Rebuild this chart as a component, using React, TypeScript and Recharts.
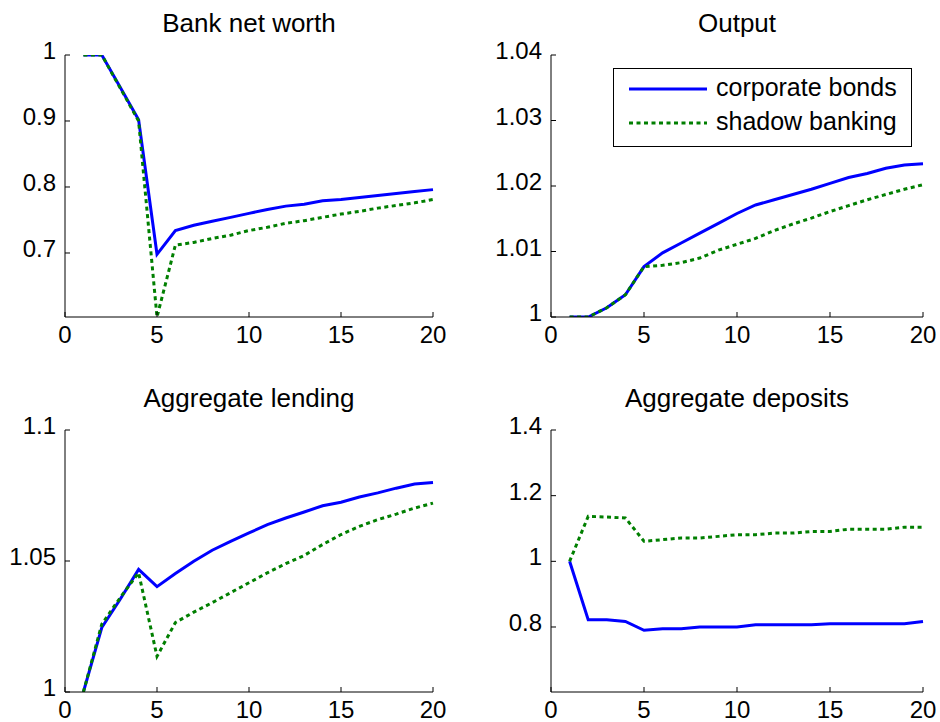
import { Legend, Line, LineChart, XAxis, YAxis } from 'recharts'

const FONT = '"Liberation Sans", Arial, Helvetica, sans-serif'
const TICK = 5

const periods = [1, 2, 3, 4, 5, 6, 7, 8, 9, 10, 11, 12, 13, 14, 15, 16, 17, 18, 19, 20]
const xTicks = [0, 5, 10, 15, 20]

const netWorthBonds = [1, 1, 0.951, 0.902, 0.698, 0.734, 0.742, 0.748, 0.754, 0.76, 0.766, 0.771, 0.774, 0.779, 0.781, 0.784, 0.787, 0.79, 0.793, 0.796]
const netWorthShadow = [1, 1, 0.95, 0.9, 0.603, 0.712, 0.716, 0.722, 0.727, 0.734, 0.739, 0.745, 0.749, 0.754, 0.759, 0.763, 0.768, 0.772, 0.776, 0.781]
const netWorthTicks = [0.7, 0.8, 0.9, 1]

const outputBonds = [1, 1, 1.0014, 1.0034, 1.0077, 1.0098, 1.0113, 1.0128, 1.0143, 1.0158, 1.0171, 1.0179, 1.0187, 1.0195, 1.0204, 1.0213, 1.0219, 1.0227, 1.0232, 1.0234]
const outputShadow = [1, 1, 1.0014, 1.0034, 1.0077, 1.0079, 1.0083, 1.009, 1.0102, 1.0111, 1.012, 1.0132, 1.0142, 1.0151, 1.0161, 1.017, 1.0179, 1.0187, 1.0195, 1.0202]
const outputTicks = [1, 1.01, 1.02, 1.03, 1.04]

const lendingBonds = [1, 1.0246, 1.0354, 1.0468, 1.0402, 1.0452, 1.0499, 1.0541, 1.0575, 1.0607, 1.0639, 1.0664, 1.0687, 1.0711, 1.0724, 1.0744, 1.076, 1.0778, 1.0794, 1.08]
const lendingShadow = [1, 1.0259, 1.036, 1.0455, 1.0136, 1.0265, 1.0305, 1.0341, 1.0379, 1.0417, 1.0455, 1.049, 1.0521, 1.0563, 1.0601, 1.0632, 1.0658, 1.0679, 1.0702, 1.0721]
const lendingTicks = [1, 1.05, 1.1]

const depositsBonds = [1, 0.822, 0.822, 0.817, 0.79, 0.795, 0.795, 0.8, 0.8, 0.8, 0.807, 0.807, 0.807, 0.807, 0.81, 0.81, 0.81, 0.81, 0.81, 0.817]
const depositsShadow = [1, 1.137, 1.135, 1.132, 1.061, 1.066, 1.071, 1.071, 1.076, 1.081, 1.081, 1.086, 1.086, 1.091, 1.091, 1.098, 1.098, 1.098, 1.104, 1.104]
const depositsTicks = [0.8, 1, 1.2, 1.4]

const series = [
  { key: 'bonds', name: 'corporate bonds', color: '#0000ff', dash: undefined },
  { key: 'shadow', name: 'shadow banking', color: '#007f00', dash: '4 3.5' },
]

function rows(bonds: number[], shadow: number[]) {
  return periods.map((t, i) => ({ t, bonds: bonds[i], shadow: shadow[i] }))
}

const textProps = { fontFamily: FONT, fill: '#000' }

function BottomTick({ x, y, payload }: any) {
  return (
    <g>
      <line x1={x} x2={x} y1={y} y2={y - TICK} stroke="#000" />
      <text x={x} y={y + 26} textAnchor="middle" fontSize={24} {...textProps}>
        {payload.value}
      </text>
    </g>
  )
}

function TopTick({ x, y }: any) {
  return <line x1={x} x2={x} y1={y} y2={y + TICK} stroke="#000" />
}

function LeftTick({ x, y, payload }: any) {
  return (
    <g>
      <line x1={x} x2={x + TICK} y1={y} y2={y} stroke="#000" />
      <text x={x - 9} y={y + 4} textAnchor="end" fontSize={24} {...textProps}>
        {String(payload.value)}
      </text>
    </g>
  )
}

function RightTick({ x, y }: any) {
  return <line x1={x} x2={x - TICK} y1={y} y2={y} stroke="#000" />
}

function LegendBox() {
  return (
    <svg width={299} height={79} style={{ display: 'block', background: '#fff' }}>
      <rect x={0.5} y={0.5} width={298} height={78} fill="#fff" stroke="#000" />
      {series.map((s, i) => {
        const cy = 21 + i * 34
        return (
          <g key={s.key}>
            <line x1={16} x2={94} y1={cy} y2={cy} stroke={s.color} strokeWidth={3} strokeDasharray={s.dash} />
            <text x={103} y={cy + 7} fontSize={25} {...textProps}>
              {s.name}
            </text>
          </g>
        )
      })}
    </svg>
  )
}

type PanelProps = {
  title: string
  data: { t: number; bonds: number; shadow: number }[]
  yDomain: [number, number]
  yTicks: number[]
  left: number
  top: number
  yAxisWidth: number
  marginRight: number
  marginTop: number
  marginBottom: number
  legend?: boolean
}

function Panel(p: PanelProps) {
  const W = 470
  const H = 361
  const plotLeft = p.left + p.yAxisWidth
  const plotWidth = W - p.yAxisWidth - p.marginRight
  return (
    <>
      <div
        style={{
          position: 'absolute',
          left: plotLeft,
          width: plotWidth,
          top: p.top + p.marginTop - 45,
          textAlign: 'center',
          fontFamily: FONT,
          fontSize: 26,
          lineHeight: '26px',
          color: '#000',
        }}
      >
        {p.title}
      </div>
      <div style={{ position: 'absolute', left: p.left, top: p.top }}>
        <LineChart
          width={W}
          height={H}
          data={p.data}
          margin={{ top: p.marginTop, right: p.marginRight, bottom: p.marginBottom, left: 0 }}
        >
          <XAxis
            xAxisId="b"
            dataKey="t"
            type="number"
            domain={[0, 20]}
            ticks={xTicks}
            interval={0}
            height={30}
            tickSize={0}
            tickMargin={0}
            tickLine={false}
            stroke="#000"
            tick={<BottomTick />}
          />
          <XAxis
            xAxisId="t"
            orientation="top"
            dataKey="t"
            type="number"
            domain={[0, 20]}
            ticks={xTicks}
            interval={0}
            height={0}
            tickSize={0}
            tickMargin={0}
            tickLine={false}
            stroke="#000"
            tick={<TopTick />}
          />
          <YAxis
            yAxisId="l"
            type="number"
            domain={p.yDomain}
            ticks={p.yTicks}
            interval={0}
            allowDataOverflow
            width={p.yAxisWidth}
            tickSize={0}
            tickMargin={0}
            tickLine={false}
            stroke="#000"
            tick={<LeftTick />}
          />
          <YAxis
            yAxisId="r"
            orientation="right"
            type="number"
            domain={p.yDomain}
            ticks={p.yTicks}
            interval={0}
            allowDataOverflow
            width={0}
            tickSize={0}
            tickMargin={0}
            tickLine={false}
            stroke="#000"
            tick={<RightTick />}
          />
          {series.map((s) => (
            <Line
              key={s.key}
              xAxisId="b"
              yAxisId="l"
              type="linear"
              dataKey={s.key}
              name={s.name}
              stroke={s.color}
              strokeWidth={3}
              strokeDasharray={s.dash}
              dot={false}
              activeDot={false}
              isAnimationActive={false}
            />
          ))}
          {p.legend ? (
            <Legend
              layout="vertical"
              align="center"
              verticalAlign="middle"
              content={() => <LegendBox />}
              wrapperStyle={{ left: 143, top: 68, width: 299, height: 79 }}
            />
          ) : null}
        </LineChart>
      </div>
    </>
  )
}

export default function App() {
  return (
    <div style={{ position: 'absolute', left: 0, top: 0, width: 940, height: 722, background: '#fff' }}>
      <Panel
        title="Bank net worth"
        data={rows(netWorthBonds, netWorthShadow)}
        yDomain={[0.603, 1]}
        yTicks={netWorthTicks}
        left={0}
        top={0}
        yAxisWidth={65}
        marginRight={37}
        marginTop={55}
        marginBottom={14}
      />
      <Panel
        title="Output"
        data={rows(outputBonds, outputShadow)}
        yDomain={[1, 1.04]}
        yTicks={outputTicks}
        left={470}
        top={0}
        yAxisWidth={81}
        marginRight={17}
        marginTop={55}
        marginBottom={14}
        legend
      />
      <Panel
        title="Aggregate lending"
        data={rows(lendingBonds, lendingShadow)}
        yDomain={[1, 1.1]}
        yTicks={lendingTicks}
        left={0}
        top={361}
        yAxisWidth={65}
        marginRight={37}
        marginTop={69}
        marginBottom={0}
      />
      <Panel
        title="Aggregate deposits"
        data={rows(depositsBonds, depositsShadow)}
        yDomain={[0.602, 1.4]}
        yTicks={depositsTicks}
        left={470}
        top={361}
        yAxisWidth={81}
        marginRight={17}
        marginTop={69}
        marginBottom={0}
      />
    </div>
  )
}
